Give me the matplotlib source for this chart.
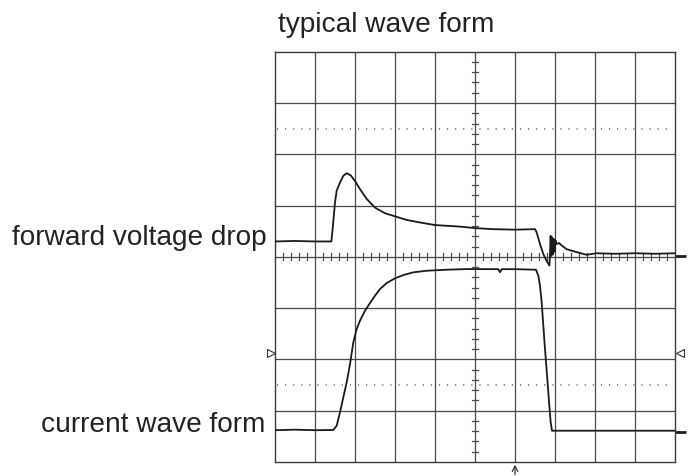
import matplotlib
matplotlib.use("Agg")
import matplotlib.pyplot as plt
import numpy as np

plt.rcParams['font.family'] = ['Liberation Sans', 'DejaVu Sans']

# --- data (in screen divisions: x 0..10, y 0..8) ---
title = "typical wave form"
label_voltage = "forward voltage drop"
label_current = "current wave form"

voltage_x = [0, 0.5, 1.0, 1.41, 1.45, 1.5, 1.542, 1.625, 1.708, 1.792, 1.892, 2.0, 2.125, 2.292,
             2.5, 2.75, 3.0, 3.29, 3.625, 4.0, 4.625, 5.0, 5.46, 6.0, 6.5, 6.54, 6.625, 6.71,
             6.79, 6.86, 6.875, 6.89, 6.91, 6.93, 6.95, 6.97, 6.99, 7.01, 7.04, 7.1, 7.17,
             7.29, 7.46, 7.79, 8.04, 8.5, 9.0, 9.5, 10.0]
voltage_y = [4.30, 4.31, 4.30, 4.30, 4.62, 5.06, 5.29, 5.45, 5.58, 5.63, 5.59, 5.48, 5.32, 5.13,
             4.96, 4.85, 4.79, 4.72, 4.67, 4.62, 4.59, 4.56, 4.54, 4.53, 4.54, 4.48, 4.25, 4.05,
             3.92, 3.83, 4.05, 4.41, 4.02, 4.38, 4.05, 4.35, 4.10, 4.32, 4.25, 4.27, 4.22,
             4.15, 4.11, 4.04, 4.07, 4.06, 4.07, 4.06, 4.07]

current_x = [0, 0.5, 1.0, 1.458, 1.542, 1.625, 1.708, 1.792, 1.875, 1.958, 2.042, 2.125, 2.25,
             2.375, 2.5, 2.625, 2.792, 3.0, 3.208, 3.458, 3.792, 4.292, 4.792, 5.5, 5.58,
             5.625, 5.67, 6.0, 6.525, 6.583, 6.625, 6.667, 6.708, 6.75, 6.808, 6.858, 6.892,
             6.925, 7.2, 8.0, 9.0, 10.0]
current_y = [0.62, 0.63, 0.62, 0.624, 0.708, 0.968, 1.261, 1.553, 1.910, 2.333, 2.593, 2.755, 2.950,
             3.099, 3.242, 3.372, 3.489, 3.581, 3.645, 3.698, 3.729, 3.749, 3.762, 3.76, 3.76,
             3.70, 3.76, 3.76, 3.749, 3.632, 3.437, 3.113, 2.657, 2.203, 1.618, 1.098, 0.774,
             0.610, 0.61, 0.61, 0.61, 0.61]

dotted_levels = [6.5, 1.5]
ref_marker_levels = [4.01, 0.59]
trigger_level = 2.12
trigger_position = 6.0

W, H = 692, 477
fig = plt.figure(figsize=(W / 100, H / 100), dpi=100)
left, right, top, bottom = 275, 675, 52.7, 463
ax = fig.add_axes([left / W, 1 - bottom / H, (right - left) / W, (bottom - top) / H])
ax.set_xlim(0, 10)
ax.set_ylim(0, 8)
ax.set_xticks([])
ax.set_yticks([])
for s in ax.spines.values():
    s.set_color('#3a3a3a')
    s.set_linewidth(1.0)

gc = '#4a4a4a'
for i in range(1, 10):
    ax.axvline(i, color=gc, lw=0.9, zorder=1)
for j in range(1, 8):
    ax.axhline(j, color=gc, lw=0.9, zorder=1)

for lv in dotted_levels:
    ax.plot([0.05, 9.95], [lv, lv], color='#555555', lw=1.1, ls=(0, (0.7, 4.6)), zorder=1)

# center axis minor ticks
for t in np.arange(0.2, 10, 0.2):
    if abs(t - round(t)) > 1e-6:
        ax.plot([t, t], [3.93, 4.07], color=gc, lw=0.9, zorder=1)
for t in np.arange(0.2, 8, 0.2):
    if abs(t - round(t)) > 1e-6:
        ax.plot([4.92, 5.08], [t, t], color=gc, lw=0.9, zorder=1)

ax.plot(voltage_x, voltage_y, color='#1a1a1a', lw=1.3, zorder=3)
ax.plot(current_x, current_y, color='#1a1a1a', lw=1.3, zorder=3)

# reference level markers on the right
for lv in ref_marker_levels:
    ax.plot([10.0, 10.28], [lv, lv], color='#1e1e1e', lw=2.0, clip_on=False, solid_capstyle='butt')

# trigger triangles
ax.plot([-0.1], [trigger_level], marker='>', ms=6, mfc='white', mec='#333333', mew=0.8, clip_on=False)
ax.plot([10.13], [trigger_level], marker='<', ms=6, mfc='white', mec='#333333', mew=0.8, clip_on=False)

# trigger position arrow
ax.annotate('', xy=(trigger_position, 0.0), xytext=(trigger_position, -0.3),
            xycoords='data', textcoords='data', annotation_clip=False,
            arrowprops=dict(arrowstyle='->', color='#222222', lw=0.8))

fs = 20.2
fig.text(278 / W, 1 - 32 / H, title, fontsize=fs, ha='left', va='baseline', color='#222222')
fig.text(267 / W, 1 - 245 / H, label_voltage, fontsize=fs, ha='right', va='baseline', color='#222222')
fig.text(265 / W, 1 - 431.7 / H, label_current, fontsize=fs, ha='right', va='baseline', color='#222222')

fig.savefig('out.png', dpi=100)
